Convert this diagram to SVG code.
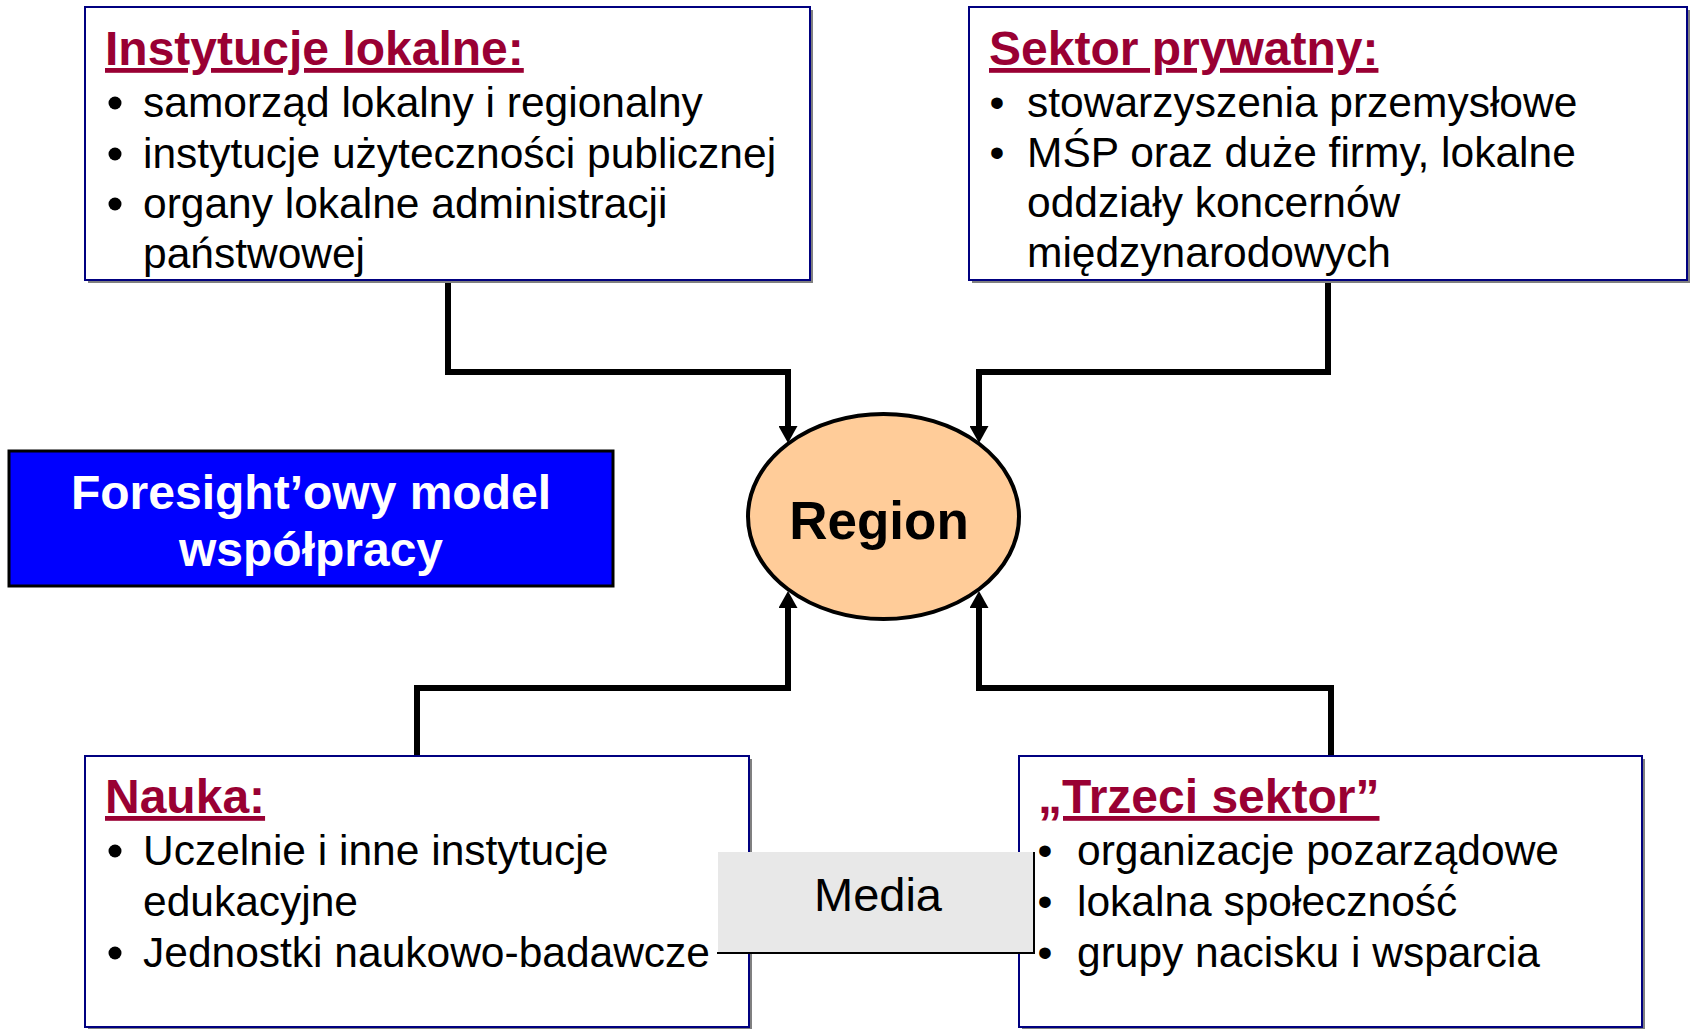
<svg xmlns="http://www.w3.org/2000/svg" width="1692" height="1029" viewBox="0 0 1692 1029">
<style>
.box{fill:#fff;stroke:#000080;stroke-width:2}
.shadow{fill:#808080}
.title{font-family:"Liberation Sans",Arial,sans-serif;font-weight:bold;font-size:48px;fill:#990033;text-decoration:underline}
.body{font-family:"Liberation Sans",Arial,sans-serif;font-size:42.5px;fill:#000}
.dot{fill:#000}
.conn{fill:none;stroke:#000;stroke-width:6;stroke-linejoin:miter}
</style>
<defs>
<marker id="ah" viewBox="0 0 17 19" refX="0" refY="9.5" markerWidth="17" markerHeight="19" markerUnits="userSpaceOnUse" orient="auto">
<path d="M0,0 L17,9.5 L0,19 Z" fill="#000"/>
</marker>
</defs>
<rect width="1692" height="1029" fill="#fff"/>

<g id="connectors">
<path class="conn" d="M448,280 V372 H788 V426" marker-end="url(#ah)"/>
<path class="conn" d="M1328,280 V372 H979 V426" marker-end="url(#ah)"/>
<path class="conn" d="M417,756 V688 H788 V608" marker-end="url(#ah)"/>
<path class="conn" d="M1331,756 V688 H979 V608" marker-end="url(#ah)"/>
</g>

<g id="instytucje-lokalne">
<rect class="shadow" x="88" y="10" width="725" height="273"/>
<rect class="box" x="85" y="7" width="725" height="273"/>
<text class="title" x="105" y="65">Instytucje lokalne:</text>
<circle class="dot" cx="115" cy="103" r="6.5"/>
<circle class="dot" cx="115" cy="154" r="6.5"/>
<circle class="dot" cx="115" cy="204" r="6.5"/>
<text class="body" x="143" y="117">samorząd lokalny i regionalny</text>
<text class="body" x="143" y="168">instytucje użyteczności publicznej</text>
<text class="body" x="143" y="218">organy lokalne administracji</text>
<text class="body" x="143" y="268">państwowej</text>
</g>

<g id="sektor-prywatny">
<rect class="shadow" x="972" y="10" width="718" height="273"/>
<rect class="box" x="969" y="7" width="718" height="273"/>
<text class="title" x="989" y="65">Sektor prywatny:</text>
<text class="body" x="997" y="117" text-anchor="middle">•</text>
<text class="body" x="997" y="167" text-anchor="middle">•</text>
<text class="body" x="1027" y="117">stowarzyszenia przemysłowe</text>
<text class="body" x="1027" y="167">MŚP oraz duże firmy, lokalne</text>
<text class="body" x="1027" y="217">oddziały koncernów</text>
<text class="body" x="1027" y="267">międzynarodowych</text>
</g>

<g id="foresight">
<rect x="9" y="451" width="604" height="135" fill="#0000ff" stroke="#000" stroke-width="3"/>
<text x="311" y="509" text-anchor="middle" font-family="'Liberation Sans',Arial,sans-serif" font-weight="bold" font-size="48" fill="#fff">Foresight’owy model</text>
<text x="311" y="566" text-anchor="middle" font-family="'Liberation Sans',Arial,sans-serif" font-weight="bold" font-size="48" fill="#fff">współpracy</text>
</g>

<g id="region">
<ellipse cx="883.5" cy="516.5" rx="135.5" ry="102.5" fill="#ffcc99" stroke="#000" stroke-width="4"/>
<text x="879" y="539" text-anchor="middle" font-family="'Liberation Sans',Arial,sans-serif" font-weight="bold" font-size="53" fill="#000">Region</text>
</g>

<g id="nauka">
<rect class="shadow" x="88" y="759" width="664" height="271"/>
<rect class="box" x="85" y="756" width="664" height="271"/>
<text class="title" x="105" y="813">Nauka:</text>
<circle class="dot" cx="115" cy="851" r="6.5"/>
<circle class="dot" cx="115" cy="953" r="6.5"/>
<text class="body" x="143" y="865">Uczelnie i inne instytucje</text>
<text class="body" x="143" y="916">edukacyjne</text>
<text class="body" x="143" y="967">Jednostki naukowo-badawcze</text>
</g>

<g id="trzeci-sektor">
<rect class="shadow" x="1022" y="759" width="623" height="271"/>
<rect class="box" x="1019" y="756" width="623" height="271"/>
<text class="title" x="1038" y="813">„Trzeci sektor”</text>
<text class="body" x="1077" y="865">organizacje pozarządowe</text>
<text class="body" x="1077" y="916">lokalna społeczność</text>
<text class="body" x="1077" y="967">grupy nacisku i wsparcia</text>
</g>

<g id="media">
<rect x="718" y="852" width="316" height="101" fill="#e8e8e8"/>
<path d="M717,953 H1034 V852" fill="none" stroke="#000" stroke-width="2"/>
<text x="878" y="911" text-anchor="middle" font-family="'Liberation Sans',Arial,sans-serif" font-size="47" fill="#000">Media</text>
</g>

<g id="trzeci-bullets">
<text class="body" x="1045" y="865" text-anchor="middle">•</text>
<text class="body" x="1045" y="916" text-anchor="middle">•</text>
<text class="body" x="1045" y="967" text-anchor="middle">•</text>
</g>
</svg>
